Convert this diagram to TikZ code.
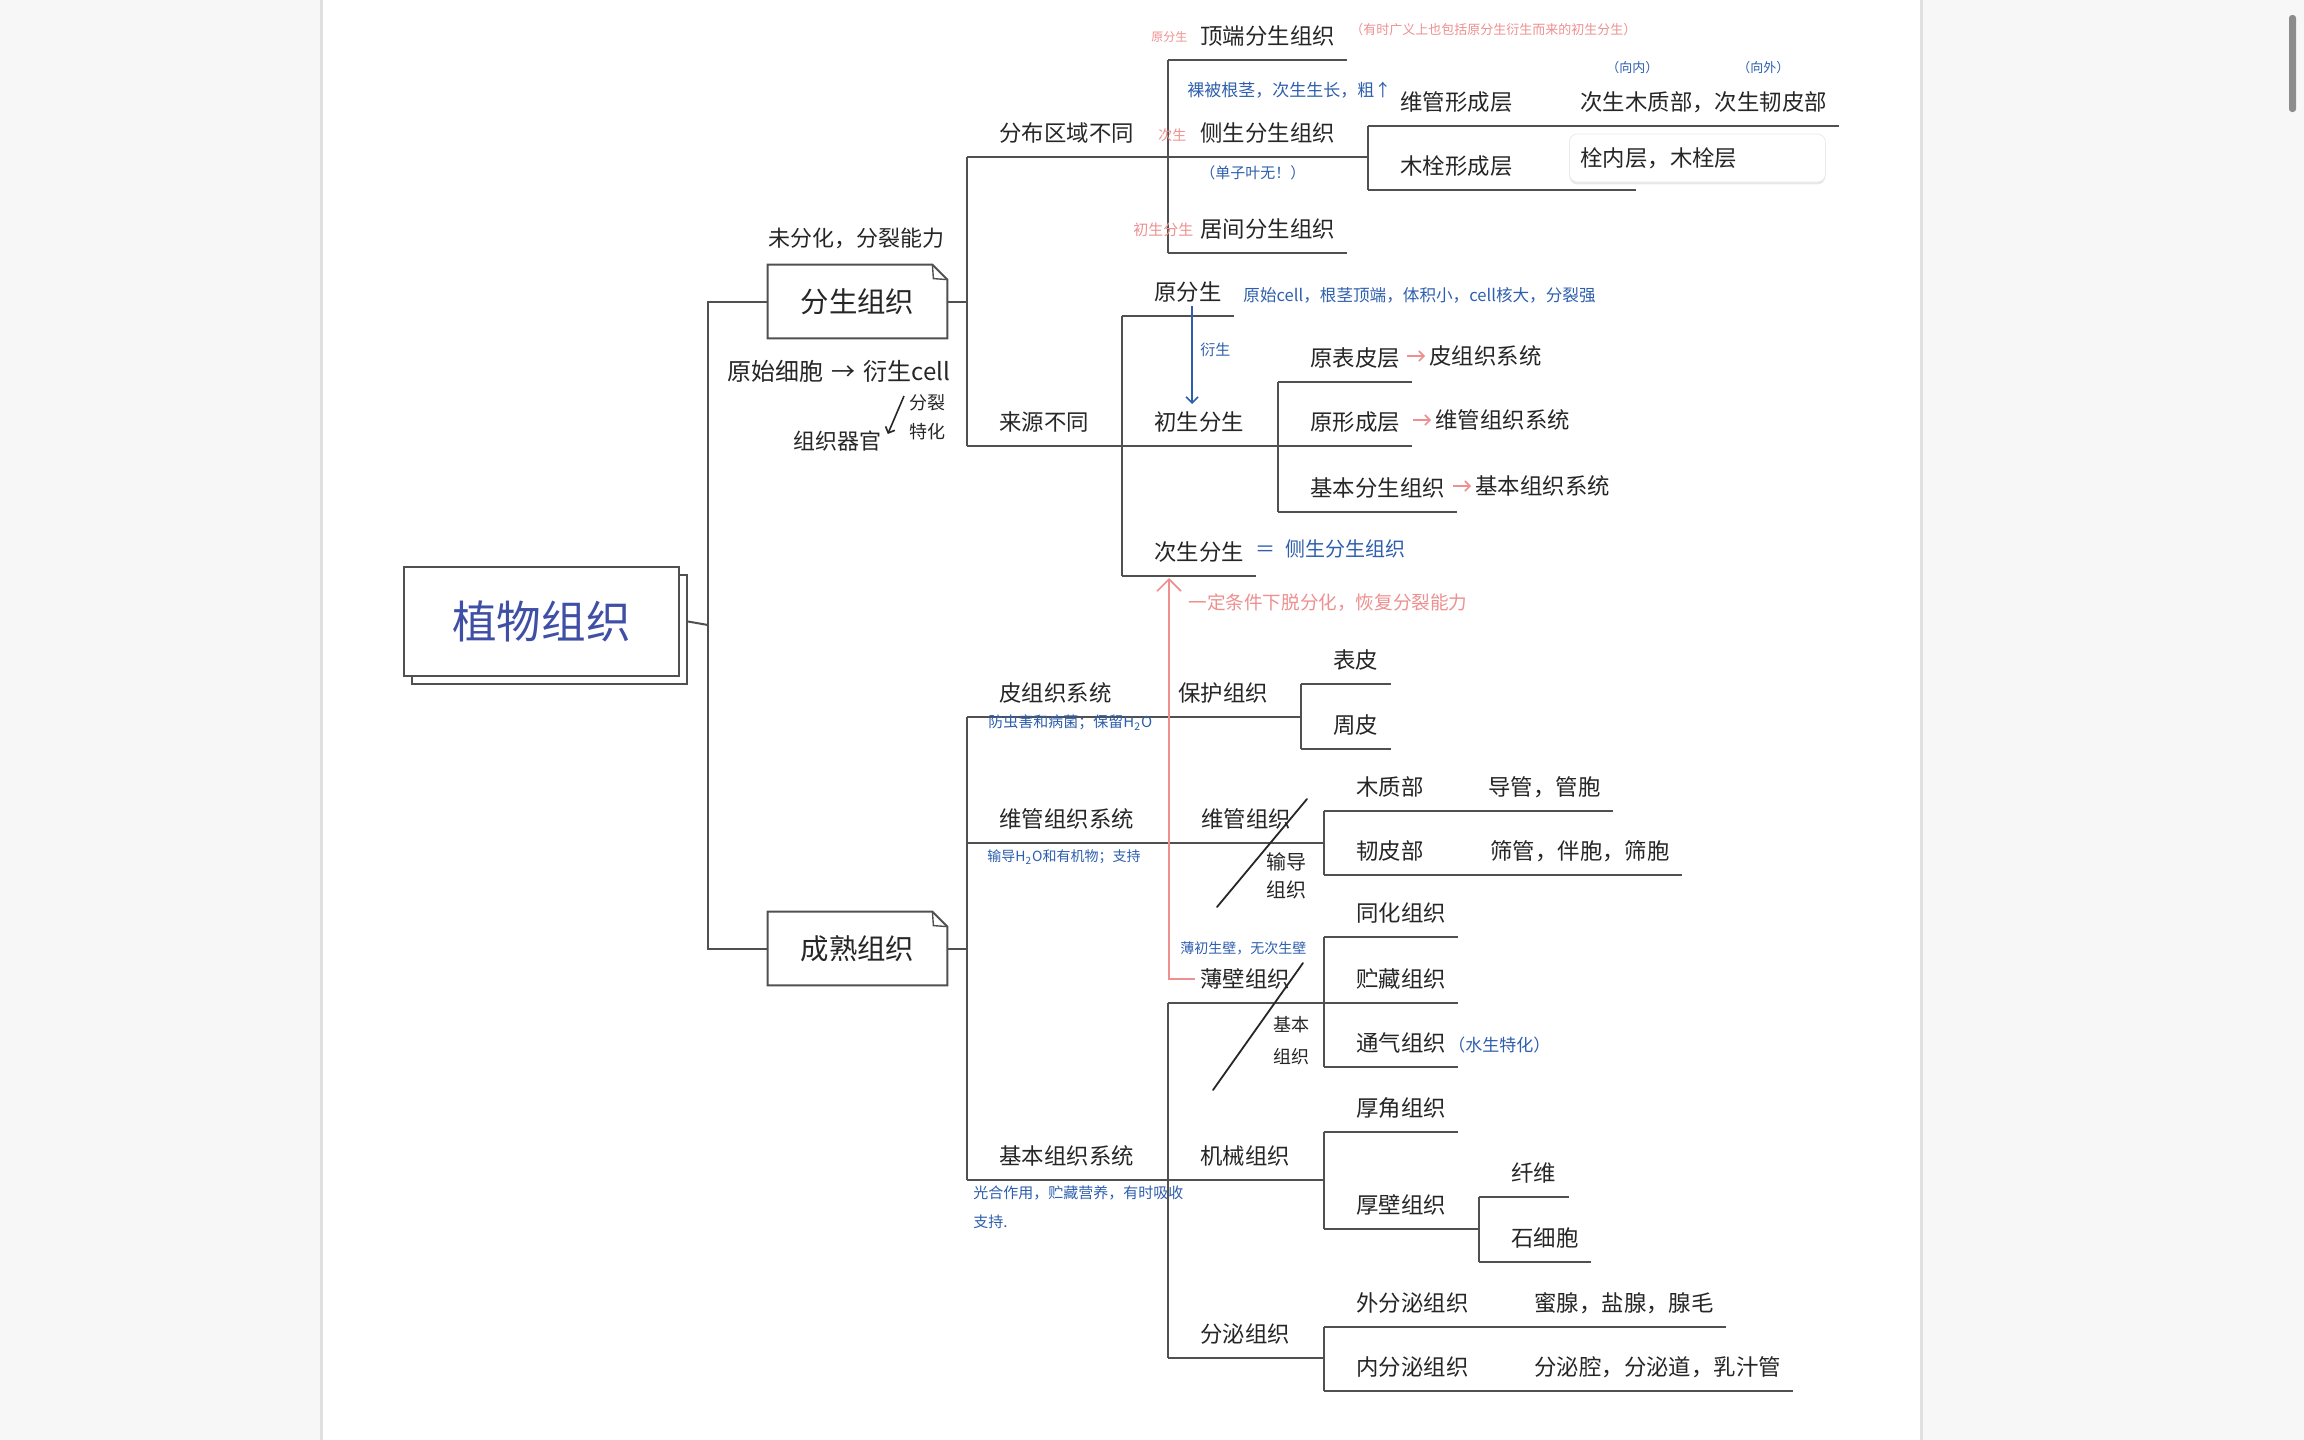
\documentclass[tikz,border=0pt]{standalone}
\usepackage{fontspec}
\setmainfont{Noto Sans CJK SC}
\usetikzlibrary{arrows,arrows.meta,shadows}

\definecolor{ink}{HTML}{262626}
\definecolor{wire}{HTML}{505050}
\definecolor{pen}{HTML}{2E5FAE}
\definecolor{rose}{HTML}{EE9090}
\definecolor{titleblue}{HTML}{3F4FA6}
\definecolor{desk}{HTML}{F7F7F7}

\newcommand{\sz}[1]{\fontsize{#1pt}{#1pt}\selectfont}
% folded corner of the tissue boxes
\newcommand{\dogear}[1]{%
  \draw[branch] (#1.south west) -- (#1.north west) -- ([xshift=-7.5pt]#1.north east)
    -- ([yshift=-7.5pt]#1.north east) -- (#1.south east) -- cycle;
  \draw[branch,line width=0.7pt] ([xshift=-7.5pt]#1.north east) -- ([xshift=-7pt,yshift=-7pt]#1.north east)
    -- ([yshift=-7.5pt]#1.north east);}

\begin{document}
\begin{tikzpicture}[x=0.5pt,y=-0.5pt,
    branch/.style={draw=wire,line width=1pt},
    topic/.style={anchor=south west,inner xsep=16pt,inner ysep=7.6pt,text height=8.5pt,text depth=0pt,
      font=\sz{11.2},text=ink,
      append after command={(\tikzlastnode.south west) edge[branch] ([xshift=-10pt]\tikzlastnode.south east)}},
    plain/.style={anchor=west,inner sep=1pt,font=\sz{11.2},text=ink},
    hand/.style={anchor=west,inner sep=0pt,text=ink},
    bnote/.style={hand,text=pen},
    pnote/.style={hand,text=rose},
    tissue/.style={rectangle,fill=white,minimum width=89.5pt,minimum height=36.5pt,font=\sz{14.2},text=ink},
    rootbox/.style={rectangle,draw=wire,fill=white,line width=1pt,minimum width=137.5pt,minimum height=54.5pt,
      font=\sz{22.3},text=titleblue,copy shadow={shadow xshift=4pt,shadow yshift=-4pt}},
    callout/.style={rectangle,rounded corners=4pt,fill=white,draw=black!8,anchor=west,minimum height=24pt,
      text width=117pt,inner xsep=5.5pt,align=left,font=\sz{11.2},text=ink,
      drop shadow={opacity=0.18,shadow xshift=0pt,shadow yshift=-1.2pt}},
    slash/.style={draw=ink,line width=0.9pt,line cap=round},
    pinkarr/.style={draw=rose,line width=0.8pt,-{Straight Barb[length=2.5pt,width=5pt]}},
    bluearr/.style={draw=pen,line width=0.8pt,-{Straight Barb[length=3pt,width=6pt]}},
    handarr/.style={draw=ink,line width=0.8pt,-{Straight Barb[length=2.5pt,width=5pt]}}]

  % page
  \useasboundingbox (0,0) rectangle (2304,1440);
  \fill[desk] (0,0) rectangle (2304,1440);
  \fill[white] (322,0) rectangle (1920,1440);
  \draw[black!12,line width=1.5pt] (321,0) -- (321,1440) (1921,0) -- (1921,1440);
  \fill[black!45,rounded corners=1.5pt] (2289,15) rectangle (2296,112);

  % main boxes
  \node[rootbox] (zwzz) at (541.5,621.5) {植物组织};
  \node[tissue]  (fszz) at (857.5,301.5) {分生组织};
  \node[tissue]  (cszz) at (857.5,948.5) {成熟组织};
  \dogear{fszz}
  \dogear{cszz}
  \coordinate (trunk) at (708,625);
  \draw[branch] ([xshift=4pt]zwzz.east) -- (trunk);
  \draw[branch] (fszz.west) -| (trunk) |- (cszz.west);

  % meristem
  \node[topic] (fbqy) at (967,157)  {分布区域不同};
  \node[topic] (dbfs) at (1168,60)  {顶端分生组织};
  \node[topic] (csfs) at (1168,157) {侧生分生组织};
  \node[topic] (jjfs) at (1168,253) {居间分生组织};
  \node[topic] (wgxc) at (1368,126) {维管形成层};
  \node[topic] (cmzb) at (1548,126) {次生木质部，次生韧皮部};
  \node[topic] (mxxc) at (1368,190) {木栓形成层};
  \coordinate (mxxc-e) at (1636,190);
  \node[callout] (sncs) at (1569,158) {栓内层，木栓层};
  \node[topic] (lybt) at (967,446)  {来源不同};
  \node[topic] (yfs)  at (1122,316) {原分生};
  \node[topic] (cfs)  at (1122,446) {初生分生};
  \node[topic] (ybpc) at (1278,382) {原表皮层};
  \node[topic] (yxcc) at (1278,446) {原形成层};
  \node[topic] (jbfs) at (1278,512) {基本分生组织};
  \node[topic] (cifs) at (1122,576) {次生分生};
  \node[plain] (ybpc-r) at (1427,356) {皮组织系统};
  \node[plain] (yxcc-r) at (1433,420) {维管组织系统};
  \node[plain] (jbfs-r) at (1473,486) {基本组织系统};

  % mature tissue
  \node[topic] (pzx)  at (967,717)  {皮组织系统};
  \node[topic] (bhzz) at (1146,717) {保护组织};
  \node[topic] (bp)   at (1301,684) {表皮};
  \node[topic] (zp)   at (1301,749) {周皮};
  \node[topic] (wgx)  at (967,843)  {维管组织系统};
  \node[topic] (wgzz) at (1169,843) {维管组织};
  \node[topic] (mzb)  at (1324,811) {木质部};
  \node[topic] (dggb) at (1456,811) {导管，管胞};
  \node[topic] (rpb)  at (1324,875) {韧皮部};
  \node[topic] (sgbb) at (1458,875) {筛管，伴胞，筛胞};
  \node[topic] (jbx)  at (967,1180) {基本组织系统};
  \node[topic] (bbzz) at (1168,1003) {薄壁组织};
  \node[topic] (thzz) at (1324,937)  {同化组织};
  \node[topic] (zczz) at (1324,1003) {贮藏组织};
  \node[topic] (tqzz) at (1324,1067) {通气组织};
  \node[topic] (jxzz) at (1168,1180) {机械组织};
  \node[topic] (hjzz) at (1324,1132) {厚角组织};
  \node[topic] (hbzz) at (1324,1229) {厚壁组织};
  \node[topic] (xw)   at (1479,1197) {纤维};
  \node[topic] (sxb)  at (1479,1262) {石细胞};
  \node[topic] (fmzz) at (1168,1358) {分泌组织};
  \node[topic] (wfm)  at (1324,1327) {外分泌组织};
  \node[topic] (wfmz) at (1502,1327) {蜜腺，盐腺，腺毛};
  \node[topic] (nfm)  at (1324,1391) {内分泌组织};
  \node[topic] (nfmz) at (1502,1391) {分泌腔，分泌道，乳汁管};

  \path[branch]
    (fszz.east)       edge (fszz.east -| fbqy.south west)
    (fbqy.south west) edge (lybt.south west)
    (fbqy.south west) edge (csfs.south west)
    (dbfs.south west) edge (jjfs.south west)
    (csfs.south west) edge (csfs.south west -| wgxc.south west)
    (wgxc.south west) edge (mxxc.south west)
    (wgxc.south west) edge (cmzb.south west)
    (mxxc.south west) edge (mxxc-e)
    (lybt.south west) edge (cfs.south west)
    (yfs.south west)  edge (cifs.south west)
    (cfs.south west)  edge (yxcc.south west)
    (ybpc.south west) edge (jbfs.south west)
    (cszz.east)       edge (cszz.east -| pzx.south west)
    (pzx.south west)  edge (jbx.south west)
    (pzx.south west)  edge (bhzz.south west)
    (bhzz.south west) edge (bhzz.south west -| bp.south west)
    (bp.south west)   edge (zp.south west)
    (wgx.south west)  edge (wgzz.south west)
    (wgzz.south west) edge (wgzz.south west -| mzb.south west)
    (mzb.south west)  edge (rpb.south west)
    (mzb.south west)  edge (dggb.south west)
    (rpb.south west)  edge (sgbb.south west)
    (jbx.south west)  edge (jxzz.south west)
    (bbzz.south west) edge (fmzz.south west)
    (bbzz.south west) edge (zczz.south west)
    (thzz.south west) edge (tqzz.south west)
    (jxzz.south west) edge (jxzz.south west -| hjzz.south west)
    (hjzz.south west) edge (hbzz.south west)
    (hbzz.south west) edge (hbzz.south west -| xw.south west)
    (xw.south west)   edge (sxb.south west)
    (fmzz.south west) edge (fmzz.south west -| wfm.south west)
    (wfm.south west)  edge (nfm.south west)
    (wfm.south west)  edge (wfmz.south west)
    (nfm.south west)  edge (nfmz.south west);

  \draw[pinkarr] ([xshift=-10pt]ybpc-r.west) -- ([xshift=-1pt]ybpc-r.west);
  \draw[pinkarr] ([xshift=-10pt]yxcc-r.west) -- ([xshift=-1pt]yxcc-r.west);
  \draw[pinkarr] ([xshift=-10pt]jbfs-r.west) -- ([xshift=-1pt]jbfs-r.west);

  % handwritten notes
  \node[hand,font=\sz{11}] (fszz-top) at (768,238) {未分化，分裂能力};
  \node[hand,font=\sz{12}] (fszz-src) at (727,371) {原始细胞\hspace{4pt}→\hspace{4pt}衍生cell};
  \node[hand,font=\fontsize{9pt}{14.5pt}\selectfont,align=left] (fszz-fl) at (909,417) {分裂\\特化};
  \node[hand,font=\sz{11}] (fszz-org) at (793,441) {组织器官};
  \coordinate (fl-a) at (904,396);
  \draw[handarr] (fl-a) -- ([xshift=3pt,yshift=3.5pt]fszz-org.east);

  \node[pnote,font=\sz{6}]   (dbfs-tag)  at (1151,37)  {原分生};
  \node[pnote,font=\sz{6.5}] (dbfs-note) at (1350,30)  {（有时广义上也包括原分生衍生而来的初生分生）};
  \node[bnote,font=\sz{8.5}] (csfs-note) at (1187,90)  {裸被根茎，次生生长，粗↑};
  \node[pnote,font=\sz{7}]   (csfs-tag)  at (1158,135) {次生};
  \node[bnote,font=\sz{7.5}] (csfs-nb)   at (1200,173) {（单子叶无！）};
  \node[pnote,font=\sz{7.5}] (jjfs-tag)  at (1133,230) {初生分生};
  \node[bnote,font=\sz{6.5}] (toin)      at (1606,68)  {（向内）};
  \node[bnote,font=\sz{6.5}] (toout)     at (1737,68)  {（向外）};
  \node[bnote,font=\sz{8.3}] (yfs-note)  at (1243,295) {原始cell，根茎顶端，体积小，cell核大，分裂强};
  \coordinate (ys-a) at (1192,306);
  \coordinate (ys-b) at (1192,404);
  \draw[bluearr] (ys-a) -- (ys-b);
  \node[bnote,font=\sz{7.5}] (ys-lab)    at (1200,350) {衍生};
  \node[bnote,font=\sz{10}]  (cifs-note) at (1255,549) {＝\hspace{5pt}侧生分生组织};

  \coordinate (pk-s) at (1195,979);
  \coordinate (pk-t) at (1169,578);
  \draw[draw=rose,line width=0.8pt,-{Straight Barb[length=6pt,width=12pt]}] (pk-s) -| (pk-t);
  \node[pnote,font=\sz{9.3}] (tdf-note)  at (1188,603) {一定条件下脱分化，恢复分裂能力};

  \node[bnote,font=\sz{7.5}] (pzx-note)  at (988,723)  {防虫害和病菌；保留H\textsubscript{2}O};
  \node[bnote,font=\sz{7}]   (wgx-note)  at (987,857)  {输导H\textsubscript{2}O和有机物；支持};
  \node[bnote,font=\sz{7}]   (bbzz-note) at (1180,948) {薄初生壁，无次生壁};
  \node[bnote,font=\sz{8.5}] (tqzz-note) at (1448,1045) {（水生特化）};
  \node[bnote,font=\fontsize{7.5pt}{14.5pt}\selectfont,align=left] (jbx-note) at (973,1207)
    {光合作用，贮藏营养，有时吸收\\支持.};

  % slashes grouping the tissues
  \coordinate (sl1-a) at (1217,907);
  \coordinate (sl1-b) at (1307,799);
  \coordinate (sl2-a) at (1213,1090);
  \coordinate (sl2-b) at (1303,963);
  \draw[slash] (sl1-a) -- (sl1-b);
  \draw[slash] (sl2-a) -- (sl2-b);
  \node[hand,font=\fontsize{10pt}{14pt}\selectfont,align=center] (sd-lab) at (1266,876) {输导\\组织};
  \node[hand,font=\fontsize{9pt}{16pt}\selectfont,align=center]  (jb-lab) at (1273,1041) {基本\\组织};
\end{tikzpicture}
\end{document}
